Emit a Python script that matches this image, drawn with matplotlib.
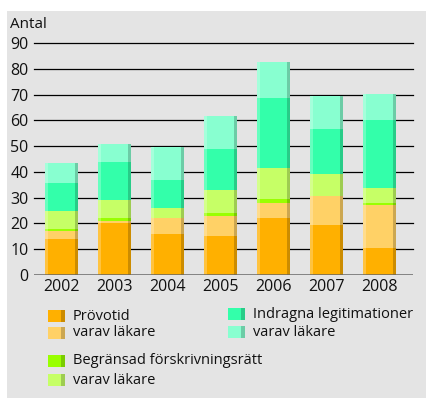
import matplotlib
matplotlib.use("Agg")
import matplotlib.pyplot as plt
from matplotlib.patches import Rectangle
import numpy as np

years = ["2002", "2003", "2004", "2005", "2006", "2007", "2008"]
provotid = [14, 20, 16, 15, 22, 19.5, 10.5]
provotid_lakare = [3, 1, 6, 8, 6, 11, 16.5]
begransad = [1, 1, 0, 1, 1.5, 0, 0.8]
begransad_lakare = [7, 7, 4, 9, 12, 8.5, 6]
indragna = [10.5, 15, 11, 16, 27, 17.5, 26.5]
indragna_lakare = [8, 7, 12.5, 12.5, 14, 13, 10]

series = [provotid, provotid_lakare, begransad, begransad_lakare, indragna, indragna_lakare]
labels = ["Prövotid", "varav läkare", "Begränsad förskrivningsrätt", "varav läkare",
          "Indragna legitimationer", "varav läkare"]
colors = ["#FFB000", "#FFD166", "#99FF00", "#C6FF66", "#33FFAA", "#88FFD0"]
yticks = [0, 10, 20, 30, 40, 50, 60, 70, 80, 90]

plt.rcParams['font.family'] = ['Open Sans', 'DejaVu Sans']

W, H = 427, 400
fig = plt.figure(figsize=(W / 100, H / 100), dpi=100)
fig.patch.set_facecolor("white")
fig.patches.append(Rectangle((7 / W, 1 - 398 / H), (W - 7) / W, (398 - 11) / H,
                             transform=fig.transFigure, facecolor="#E4E4E4",
                             edgecolor="none", zorder=-10))

ax = fig.add_axes([34 / W, 1 - 275 / H, (413 - 34) / W, (275 - 43) / H])
ax.set_zorder(5)
ax.set_facecolor("none")
x = np.arange(len(years))
w = 0.62
bottom = np.zeros(len(years))
for vals, c in zip(series, colors):
    ax.bar(x, vals, width=w, bottom=bottom, color=c, edgecolor="none", zorder=3)
    bottom += np.array(vals)
totals = bottom
s = 0.055
ax.bar(x - w / 2 + s / 2, totals, width=s, color="white", alpha=0.25, edgecolor="none", zorder=4)
ax.bar(x + w / 2 - s / 2, totals, width=s, color="black", alpha=0.2, edgecolor="none", zorder=4)

ax.set_xlim(-0.52, 6.63)
ax.set_ylim(0, 90)
for t in yticks[1:]:
    ax.axhline(t, color="black", lw=0.9, zorder=1, clip_on=False)
ax.axhline(0, color="#666666", lw=1.8, zorder=5)
for sp in ax.spines.values():
    sp.set_visible(False)
ax.set_yticks(yticks)
ax.set_xticks(x)
ax.set_xticklabels(years)
ax.tick_params(axis="both", length=0, labelsize=11.5, colors="#111111")
ax.tick_params(axis="y", pad=4)
ax.tick_params(axis="x", pad=3)

fig.text(10 / W, 1 - 24 / H, "Antal", fontsize=11, va="center", ha="left", color="#111111")

# legend
def legend_item(px, py, color, text):
    fig.patches.append(Rectangle((px / W, 1 - (py + 6) / H), 13 / W, 12 / H,
                                 transform=fig.transFigure, facecolor=color, edgecolor="none", zorder=2))
    fig.patches.append(Rectangle(((px + 13) / W, 1 - (py + 6) / H), 4 / W, 12 / H,
                                 transform=fig.transFigure, facecolor=color, edgecolor="none", zorder=2))
    fig.patches.append(Rectangle(((px + 13) / W, 1 - (py + 6) / H), 4 / W, 12 / H,
                                 transform=fig.transFigure, facecolor="black", alpha=0.2,
                                 edgecolor="none", zorder=3))
    fig.text((px + 25) / W, 1 - py / H, text, fontsize=10.5, va="center", ha="left", color="#111111")

legend_item(48, 316, colors[0], labels[0])
legend_item(48, 333, colors[1], labels[1])
legend_item(48, 361, colors[2], labels[2])
legend_item(48, 380, colors[3], labels[3])
legend_item(228, 314, colors[4], labels[4])
legend_item(228, 332, colors[5], labels[5])

fig.savefig("out.png", dpi=100)
